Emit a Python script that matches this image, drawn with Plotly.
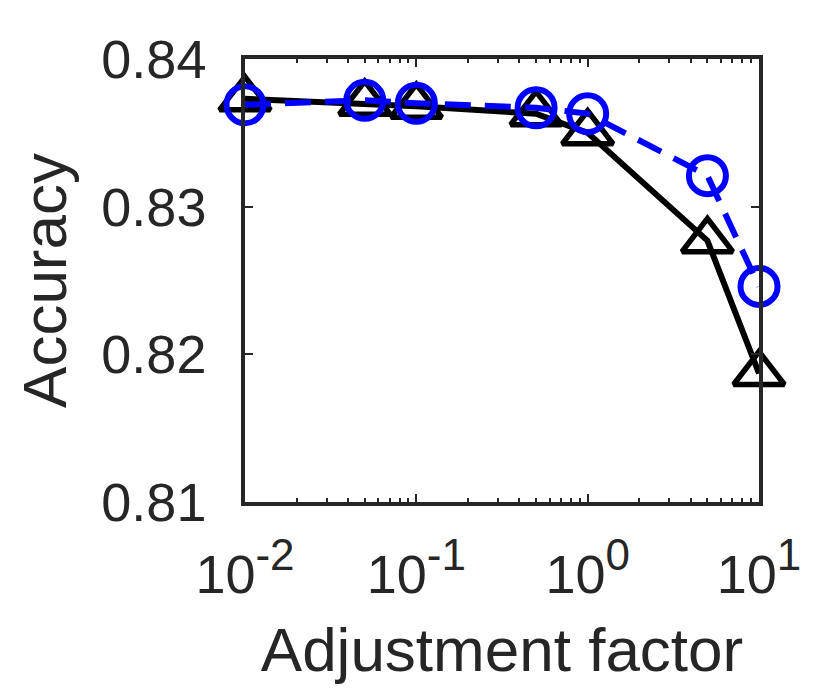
import plotly.graph_objects as go

# Data
adjustment_factor = [0.01, 0.05, 0.1, 0.5, 1, 5, 10]
acc_triangle = [0.8373, 0.8370, 0.8368, 0.8363, 0.8350, 0.8277, 0.8187]
acc_circle = [0.8369, 0.8372, 0.8370, 0.8367, 0.8363, 0.8321, 0.8246]

x_tickvals = [0.01, 0.1, 1, 10]
x_exponents = ["-2", "-1", "0", "1"]
x_ticktext = ["10<sup><span style='font-size:44px'>%s</span></sup>" % e for e in x_exponents]
y_tickvals = [0.81, 0.82, 0.83, 0.84]
y_ticktext = ["0.81", "0.82", "0.83", "0.84"]
minor_vals = [m * 10 ** e for e in (-2, -1, 0) for m in range(2, 10)]

AX = "#262626"
FONT = "Liberation Sans, Arial, Helvetica, sans-serif"

fig = go.Figure()
fig.add_trace(go.Scatter(
    x=adjustment_factor, y=acc_triangle, mode="lines+markers",
    line=dict(color="black", width=6),
    marker=dict(symbol="triangle-up-open", size=44, color="black",
                line=dict(color="black", width=5.5)),
    cliponaxis=False, showlegend=False))
fig.add_trace(go.Scatter(
    x=adjustment_factor, y=acc_circle, mode="lines+markers",
    line=dict(color="#0000ff", width=6, dash="26px,14px"),
    marker=dict(symbol="circle-open", size=37, color="#0000ff",
                line=dict(color="#0000ff", width=6)),
    cliponaxis=False, showlegend=False))

fig.update_layout(
    width=830, height=692,
    margin=dict(l=237, r=79, t=51, b=198),
    paper_bgcolor="white", plot_bgcolor="white",
    font=dict(family=FONT, color=AX, size=54),
)
fig.update_xaxes(
    type="log", range=[-2, 1],
    tickmode="array", tickvals=x_tickvals, ticktext=x_ticktext,
    tickfont=dict(size=54, color=AX),
    ticks="inside", ticklen=8, tickwidth=2, tickcolor=AX,
    minor=dict(tickvals=minor_vals, ticks="inside", ticklen=4, tickwidth=2, tickcolor=AX),
    showline=True, linecolor=AX, linewidth=3.5, mirror="ticks",
    showgrid=False, zeroline=False,
    ticklabelstandoff=22,
    title=dict(text="Adjustment factor", font=dict(size=62, color=AX), standoff=26),
)
fig.update_yaxes(
    range=[0.81, 0.84],
    tickmode="array", tickvals=y_tickvals, ticktext=y_ticktext,
    tickfont=dict(size=54, color=AX),
    ticks="inside", ticklen=8, tickwidth=2, tickcolor=AX,
    showline=True, linecolor=AX, linewidth=3.5, mirror="ticks",
    showgrid=False, zeroline=False,
    ticklabelstandoff=24,
    title=dict(text="Accuracy", font=dict(size=62, color=AX), standoff=16),
)

fig.write_html("out.html")
